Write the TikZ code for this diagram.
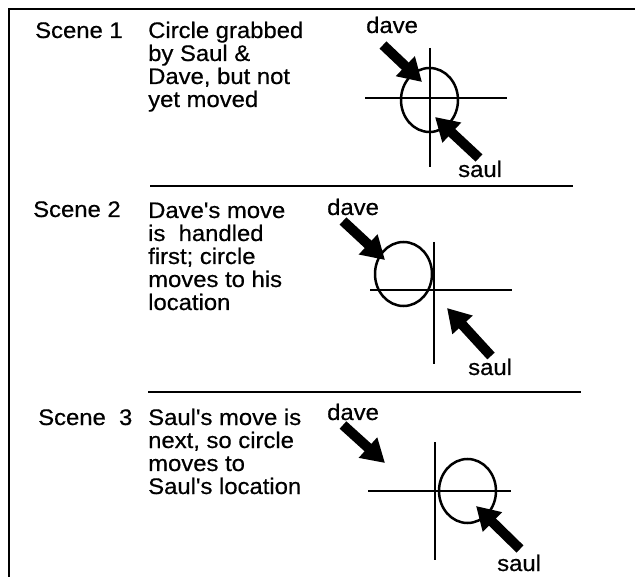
\documentclass[tikz,border=0pt]{standalone}
\usepackage{fontspec}
\setmainfont{Liberation Sans}[UprightFeatures={FakeBold=0.5}]
\usetikzlibrary{arrows.meta,shapes.geometric}
\newcommand{\ap}{\textquotesingle}
\tikzset{
  txt/.style={anchor=base west, inner sep=0pt, font=\fontsize{22.5}{23}\selectfont, xscale=1.06},
  frame/.style={line width=2.6pt},
  sep/.style={line width=1.5pt},
  axis/.style={line width=2.3pt},
  ring/.style={draw, ellipse, line width=2.5pt, minimum width=57pt, minimum height=64pt, inner sep=0pt},
  fat/.style={line width=10pt, -{Triangle[length=23pt,width=26pt]}}
}
\begin{document}
\begin{tikzpicture}[x=1pt,y=-1pt]
\useasboundingbox (0,0) rectangle (635,577);
% frame
\coordinate (fTR) at (635,9);
\coordinate (fTL) at (9,9);
\coordinate (fBL) at (9,577);
\draw[frame] (fTR) -- (fTL) -- (fBL);

% ---------- Scene 1 ----------
\node[txt] (s1) at (35,38) {Scene 1};
\node[txt] (s1a) at (148,38) {Circle grabbed};
\node[txt] (s1b) at (148,61) {by Saul \&};
\node[txt] (s1c) at (148,84) {Dave, but not};
\node[txt] (s1d) at (148,107) {yet moved};
\node[txt] (dave1) at (366,33) {dave};
\node[txt] (saul1) at (458,177) {saul};
\coordinate (v1t) at (430,48); \coordinate (v1b) at (430,167);
\coordinate (h1l) at (365,98); \coordinate (h1r) at (507,98);
\draw[axis] (v1t) -- (v1b);
\draw[axis] (h1l) -- (h1r);
\node[ring] (c1) at (429.5,100) {};
\coordinate (d1t) at (383,45); \coordinate (d1h) at (422,82);
\coordinate (u1t) at (479,158); \coordinate (u1h) at (435,117);
\draw[fat] (d1t) -- (d1h);
\draw[fat] (u1t) -- (u1h);
\coordinate (sep1l) at (150,186); \coordinate (sep1r) at (573,186);
\draw[sep] (sep1l) -- (sep1r);

% ---------- Scene 2 ----------
\node[txt] (s2) at (33,217) {Scene 2};
\node[txt] (s2a) at (148,218) {Dave\ap s move};
\node[txt] (s2b) at (148,241) {is\ \ handled};
\node[txt] (s2c) at (148,264) {first; circle};
\node[txt] (s2d) at (148,287) {moves to his};
\node[txt] (s2e) at (148,310) {location};
\node[txt] (dave2) at (327,215) {dave};
\node[txt] (saul2) at (468,375) {saul};
\coordinate (v2t) at (434,242); \coordinate (v2b) at (434,364);
\coordinate (h2l) at (370,290); \coordinate (h2r) at (512,290);
\draw[axis] (v2t) -- (v2b);
\draw[axis] (h2l) -- (h2r);
\node[ring] (c2) at (403.5,274) {};
\coordinate (d2t) at (343,221); \coordinate (d2h) at (385,260);
\coordinate (u2t) at (491,356); \coordinate (u2h) at (447,308);
\draw[fat] (d2t) -- (d2h);
\draw[fat] (u2t) -- (u2h);
\coordinate (sep2l) at (148,392); \coordinate (sep2r) at (581,392);
\draw[sep] (sep2l) -- (sep2r);

% ---------- Scene 3 ----------
\node[txt] (s3) at (38,425) {Scene\ \ 3};
\node[txt] (s3a) at (148,425) {Saul\ap s move is};
\node[txt] (s3b) at (148,448) {next, so circle};
\node[txt] (s3c) at (148,471) {moves to};
\node[txt] (s3d) at (148,494) {Saul\ap s location};
\node[txt] (dave3) at (327,420) {dave};
\node[txt] (saul3) at (497,571) {saul};
\coordinate (v3t) at (435,442); \coordinate (v3b) at (435,560);
\coordinate (h3l) at (368,491); \coordinate (h3r) at (511,491);
\draw[axis] (v3t) -- (v3b);
\draw[axis] (h3l) -- (h3r);
\node[ring] (c3) at (467.5,491) {};
\coordinate (d3t) at (343,425); \coordinate (d3h) at (385,463);
\coordinate (u3t) at (520,549); \coordinate (u3h) at (476,506);
\draw[fat] (d3t) -- (d3h);
\draw[fat] (u3t) -- (u3h);
\end{tikzpicture}
\end{document}
